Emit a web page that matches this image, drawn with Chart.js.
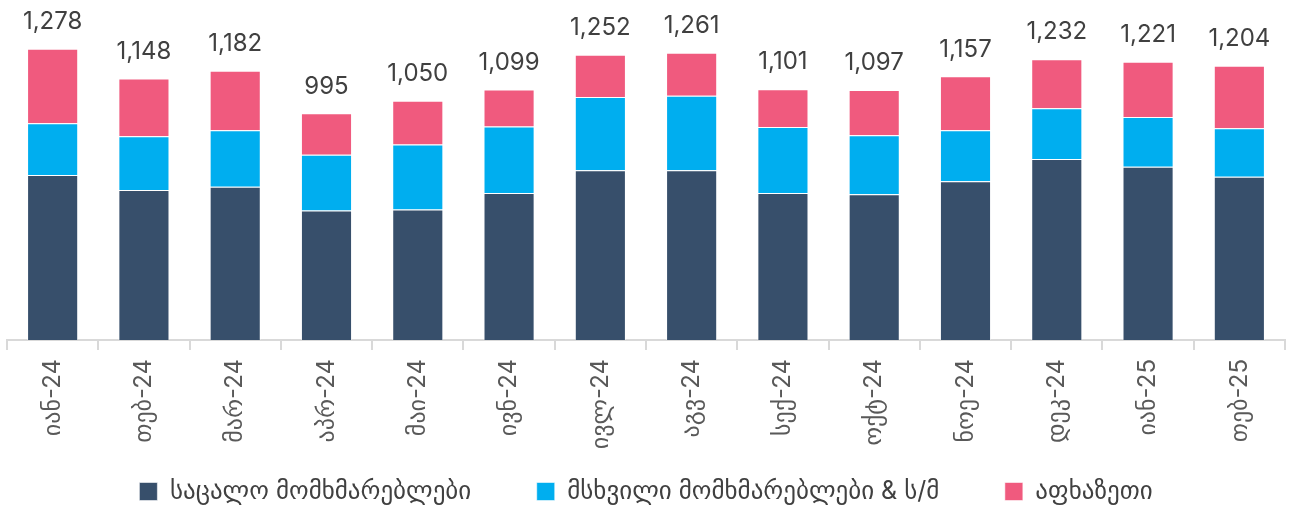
<!DOCTYPE html>
<html>
<head>
<meta charset="utf-8">
<script src="https://cdn.jsdelivr.net/npm/chart.js@4"></script>
<style>
  html, body { margin: 0; padding: 0; background: #fff; }
  #wrap { width: 1297px; height: 506px; }
</style>
</head>
<body>
<div id="wrap"><canvas id="myChart"></canvas></div>
<script>
// months (x axis)
const months = ['იან-24', 'თებ-24', 'მარ-24', 'აპრ-24', 'მაი-24', 'ივნ-24', 'ივლ-24',
  'აგვ-24', 'სექ-24', 'ოქტ-24', 'ნოე-24', 'დეკ-24', 'იან-25', 'თებ-25'];

// series
const retail = [724, 658, 673, 568, 573, 645, 745, 745, 645, 640, 697, 794, 760, 716];
const large = [227, 236, 248, 245, 285, 292, 322, 327, 290, 259, 223, 223, 219, 213];
const abkhazia = [327, 254, 261, 182, 192, 162, 185, 189, 166, 198, 237, 215, 242, 275];

// totals printed above the bars
const totals = [1278, 1148, 1182, 995, 1050, 1099, 1252, 1261, 1101, 1097, 1157, 1232, 1221, 1204];

const seriesNames = ['საცალო მომხმარებლები', 'მსხვილი მომხმარებლები & ს/მ', 'აფხაზეთი'];

const fontFamily = 'Inter, "DejaVu Sans", sans-serif';

// draws the total over each stacked bar
const totalsPlugin = {
  id: 'totals',
  afterDatasetsDraw(chart) {
    const ctx = chart.ctx;
    const meta = chart.getDatasetMeta(2);
    const yScale = chart.scales.y;
    ctx.save();
    ctx.font = '24px ' + fontFamily;
    ctx.fillStyle = '#404040';
    ctx.textAlign = 'center';
    ctx.textBaseline = 'bottom';
    meta.data.forEach((bar, i) => {
      const y = yScale.getPixelForValue(totals[i]);
      ctx.fillText(totals[i].toLocaleString('en-US'), bar.x, y - 15);
    });
    ctx.restore();
  }
};

// push the legend a bit lower, closer to the bottom edge
const legendShift = {
  id: 'legendShift',
  afterLayout(chart) {
    if (chart.legend) {
      chart.legend.top += 8;
      chart.legend.bottom += 8;
    }
  }
};

function initChart(chart) {
  const data = {
    labels: months,
    datasets: [
      { label: seriesNames[0], data: retail, backgroundColor: '#374F6B' },
      { label: seriesNames[1], data: large, backgroundColor: '#00AEEF' },
      { label: seriesNames[2], data: abkhazia, backgroundColor: '#F05A7E' }
    ].map((d) => Object.assign(d, {
      borderColor: 'rgba(255,255,255,0.55)',
      borderWidth: 1,
      barPercentage: 0.56,
      categoryPercentage: 1
    }))
  };

  const config = {
    type: 'bar',
    data: data,
    plugins: [totalsPlugin, legendShift],
    options: {
      responsive: true,
      maintainAspectRatio: false,
      animation: false,
      layout: { padding: { left: 7, right: 12, top: 21, bottom: 0 } },
      plugins: {
        tooltip: { enabled: false },
        legend: {
          position: 'bottom',
          labels: {
            boxWidth: 18,
            boxHeight: 18,
            padding: 3,
            color: '#404040',
            font: { size: 25, family: fontFamily },
            // wider gaps between the items without a tall legend box
            generateLabels(c) {
              const items = Chart.defaults.plugins.legend.labels.generateLabels(c);
              items.forEach((it, i) => {
                if (i < items.length - 1) it.text = it.text + '\u2003\u2003\u2002';
              });
              return items;
            }
          }
        }
      },
      scales: {
        x: {
          stacked: true,
          border: { color: '#d9d9d9', width: 2 },
          grid: {
            offset: true,
            drawOnChartArea: false,
            drawTicks: true,
            tickLength: 10,
            color: '#d9d9d9',
            lineWidth: 2
          },
          ticks: {
            minRotation: 90,
            maxRotation: 90,
            color: '#595959',
            padding: 9,
            font: { size: 24, family: fontFamily }
          },
          afterFit(scale) {
            scale.height = 128;
          }
        },
        y: {
          stacked: true,
          display: false,
          min: 0,
          max: 1400
        }
      }
    }
  };

  return new Chart(chart, config);
}

document.addEventListener('DOMContentLoaded', () => {
  myChart = initChart(document.querySelector('#myChart'));
});
</script>
</body>
</html>
